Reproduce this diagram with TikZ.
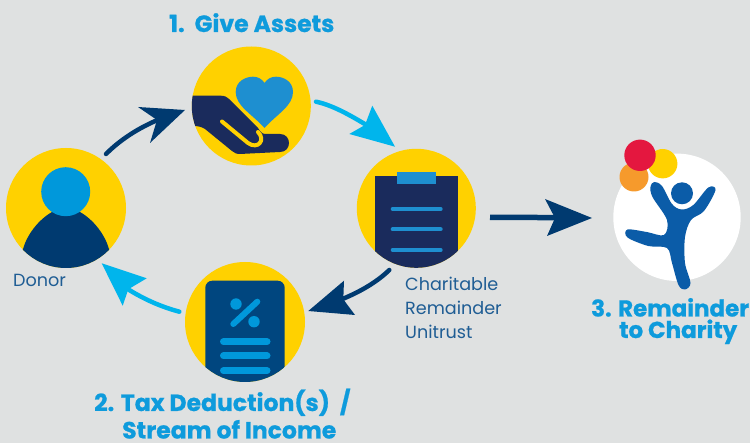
\documentclass[tikz,border=0pt]{standalone}
\usepackage{fontspec}
\setmainfont{Poppins}
\newfontfamily\ttlfont{Poppins}[BoldFeatures={FakeBold=0.8}]
\definecolor{bg}{HTML}{DFE1E1}
\definecolor{gold}{HTML}{FFD100}
\definecolor{navy}{HTML}{1A2B5C}
\definecolor{deep}{HTML}{003A70}
\definecolor{dblue}{HTML}{00467F}
\definecolor{sky}{HTML}{0098DB}
\definecolor{bright}{HTML}{00B5EC}
\definecolor{heart}{HTML}{1E8FD0}
\definecolor{kid}{HTML}{0B5CA8}
\definecolor{ttl}{HTML}{0E9BDC}
\definecolor{lbl}{HTML}{1F5D94}
\definecolor{ball1}{HTML}{E4173F}
\definecolor{ball2}{HTML}{F69A2C}
\tikzset{
  x=1pt,y=-1pt,
  disc/.style={circle,fill=gold,draw=none,minimum size=#1,inner sep=0pt},
  title/.style={font=\ttlfont\bfseries\fontsize{23.5}{26}\selectfont,text=ttl,inner sep=0pt,align=left},
  titlesm/.style={font=\ttlfont\bfseries\fontsize{23}{26}\selectfont,text=ttl,inner sep=0pt,align=left},
  small/.style={font=\fontsize{17.6}{24}\selectfont,text=lbl,inner sep=0pt,align=left},
  shaft/.style={line width=#1,line cap=round},
}
\begin{document}
\begin{tikzpicture}
\useasboundingbox (0,0) rectangle (750,443);
\fill[bg] (0,0) rectangle (750,443);
% discs
\node[disc=120pt] (d) at (66,208) {};
\node[disc=119pt] (g) at (251.3,106) {};
\node[disc=119pt] (t) at (416.3,208.3) {};
\node[disc=120pt] (r) at (245,322) {};
\node[circle,fill=white,minimum size=127.4pt,inner sep=0pt] (c) at (677,217.3) {};
% donor
\begin{scope}
\clip (66,208) circle (60);
\fill[deep] (15,275) -- (23,249) .. controls (27,235) and (38,220) .. (52,212) -- (80,212) .. controls (94,220) and (105,235) .. (109,249) -- (117,275) -- cycle;
\end{scope}
\fill[sky] (65.7,191.7) circle (24.5);
% heart & hand
\fill[heart] (264.5,128) .. controls (252,114) and (235.7,106) .. (235.7,92) .. controls (235.7,81) and (246,76.7) .. (253,76.7) .. controls (258,76.7) and (262,79) .. (264.5,83) .. controls (267,79) and (271,76.7) .. (276,76.7) .. controls (283,76.7) and (293,81) .. (293,92) .. controls (293,106) and (277,114) .. (264.5,128) -- cycle;
\begin{scope}
\clip (251.3,106) circle (59.5);
\fill[navy] (185,95.7) -- (221,95.7) .. controls (225,96) and (226,96.5) .. (229,99) -- (258,128) .. controls (260,131) and (262,134) .. (265,134) -- (280,134) .. controls (292,134) and (292,152) .. (280,152) -- (240,154) .. controls (236,154) and (235,153) .. (232,151) -- (205,129) .. controls (202,127) and (198,126) .. (194,126) -- (185,126) -- cycle;
\end{scope}
\draw[gold,line width=4pt,line cap=round] (222,121.5) -- (248,143) .. controls (258,150) and (266,140) .. (258,132);
% clipboard
\begin{scope}
\clip (416.3,208.3) circle (59.5);
\fill[navy] (375,176) rectangle (458,270);
\end{scope}
\fill[heart] (397,172) rectangle (436,184.5);
\foreach \yy in {209,229.3,250}{\draw[heart,line width=4pt,line cap=round] (392.7,\yy) -- (440.7,\yy);}
% tax
\begin{scope}
\clip (245,322) circle (60);
\fill[dblue,rounded corners=7pt] (205.3,395) -- (205.3,280.7) -- (284.7,280.7) -- (284.7,395) -- cycle;
\end{scope}
\foreach \yy in {341.7,356,370.7}{\draw[sky,line width=7pt,line cap=round] (223.5,\yy) -- (267,\yy);}
\draw[sky,line width=6pt,line cap=round] (233.3,324) -- (257.3,301.7);
\fill[sky] (236,304) circle (5.7) (254,321.7) circle (5.7);
% charity
\fill[ball2] (634,177) circle (14.5);
\fill[gold] (662.7,163.7) circle (14.7);
\fill[ball1] (640,155.3) circle (15.7);
\fill[kid] (682,193.3) circle (11);
\fill[kid] plot[smooth cycle,tension=0.55] coordinates {
 (654.3,182) (662,186) (672,204) (681.7,209.5) (693.3,205) (708.3,187.5) (715.5,190) (704,211) (691,220) (685,237) (685,263) (690.5,283) (685,289.5) (678.5,285) (672,263) (667,248) (648.3,246) (627.5,237.5) (627.5,229.5) (646.7,232) (664,235) (667,220) (652.5,197) (650.5,186.5)};
% arrows
\coordinate (a1s) at (106,154);
\coordinate (a1t) at (185,110);
\draw[deep,shaft=4.5pt] (a1s) .. controls (120,140) and (138,128) .. (160,119);
\fill[deep] (a1t) -- (138,107) -- (157,120) -- (150,143) -- cycle;
\coordinate (a2s) at (316,101.7);
\coordinate (a2t) at (395,146.7);
\draw[bright,shaft=4.5pt] (a2s) .. controls (332,105) and (350,115) .. (368,126);
\fill[bright] (a2t) -- (372.3,105.7) -- (365,125) -- (349.3,134) -- cycle;
\coordinate (a3s) at (389.3,270);
\coordinate (a3t) at (308.3,311);
\draw[deep,shaft=4.5pt] (a3s) .. controls (377,282) and (360,292) .. (340,300);
\fill[deep] (a3t) -- (344,280.7) -- (343.3,299.3) -- (355,315) -- cycle;
\coordinate (a4s) at (179.3,311.7);
\coordinate (a4t) at (101.7,263.3);
\draw[bright,shaft=4.5pt] (a4s) .. controls (162,307) and (145,300) .. (126,288);
\fill[bright] (a4t) -- (146.7,278.3) -- (128.3,289.3) -- (122.7,305.7) -- cycle;
\coordinate (a5s) at (490,217.3);
\coordinate (a5t) at (592,218);
\draw[deep,line width=5.5pt] (a5s) -- (560,217.6);
\fill[deep] (a5t) -- (545,199) -- (555,218) -- (547,236) -- cycle;
% text
\node[title,anchor=base west] (t1) at (169,32) {1.\ \ Give Assets};
\node[title,anchor=base west] (t2a) at (94,411) {2. Tax Deduction(s) \ /};
\node[title,anchor=base west] (t2b) at (122,438.5) {Stream of Income};
\node[titlesm,anchor=base west] (t3a) at (591,316.5) {3. Remainder};
\node[titlesm,anchor=base west] (t3b) at (619,338) {to Charity};
\node[small,anchor=base west] (dn) at (13,287) {Donor};
\node[small,anchor=base west] (l1) at (405,291) {Charitable};
\node[small,anchor=base west] (l2) at (405,315) {Remainder};
\node[small,anchor=base west] (l3) at (405,339) {Unitrust};
\end{tikzpicture}
\end{document}
